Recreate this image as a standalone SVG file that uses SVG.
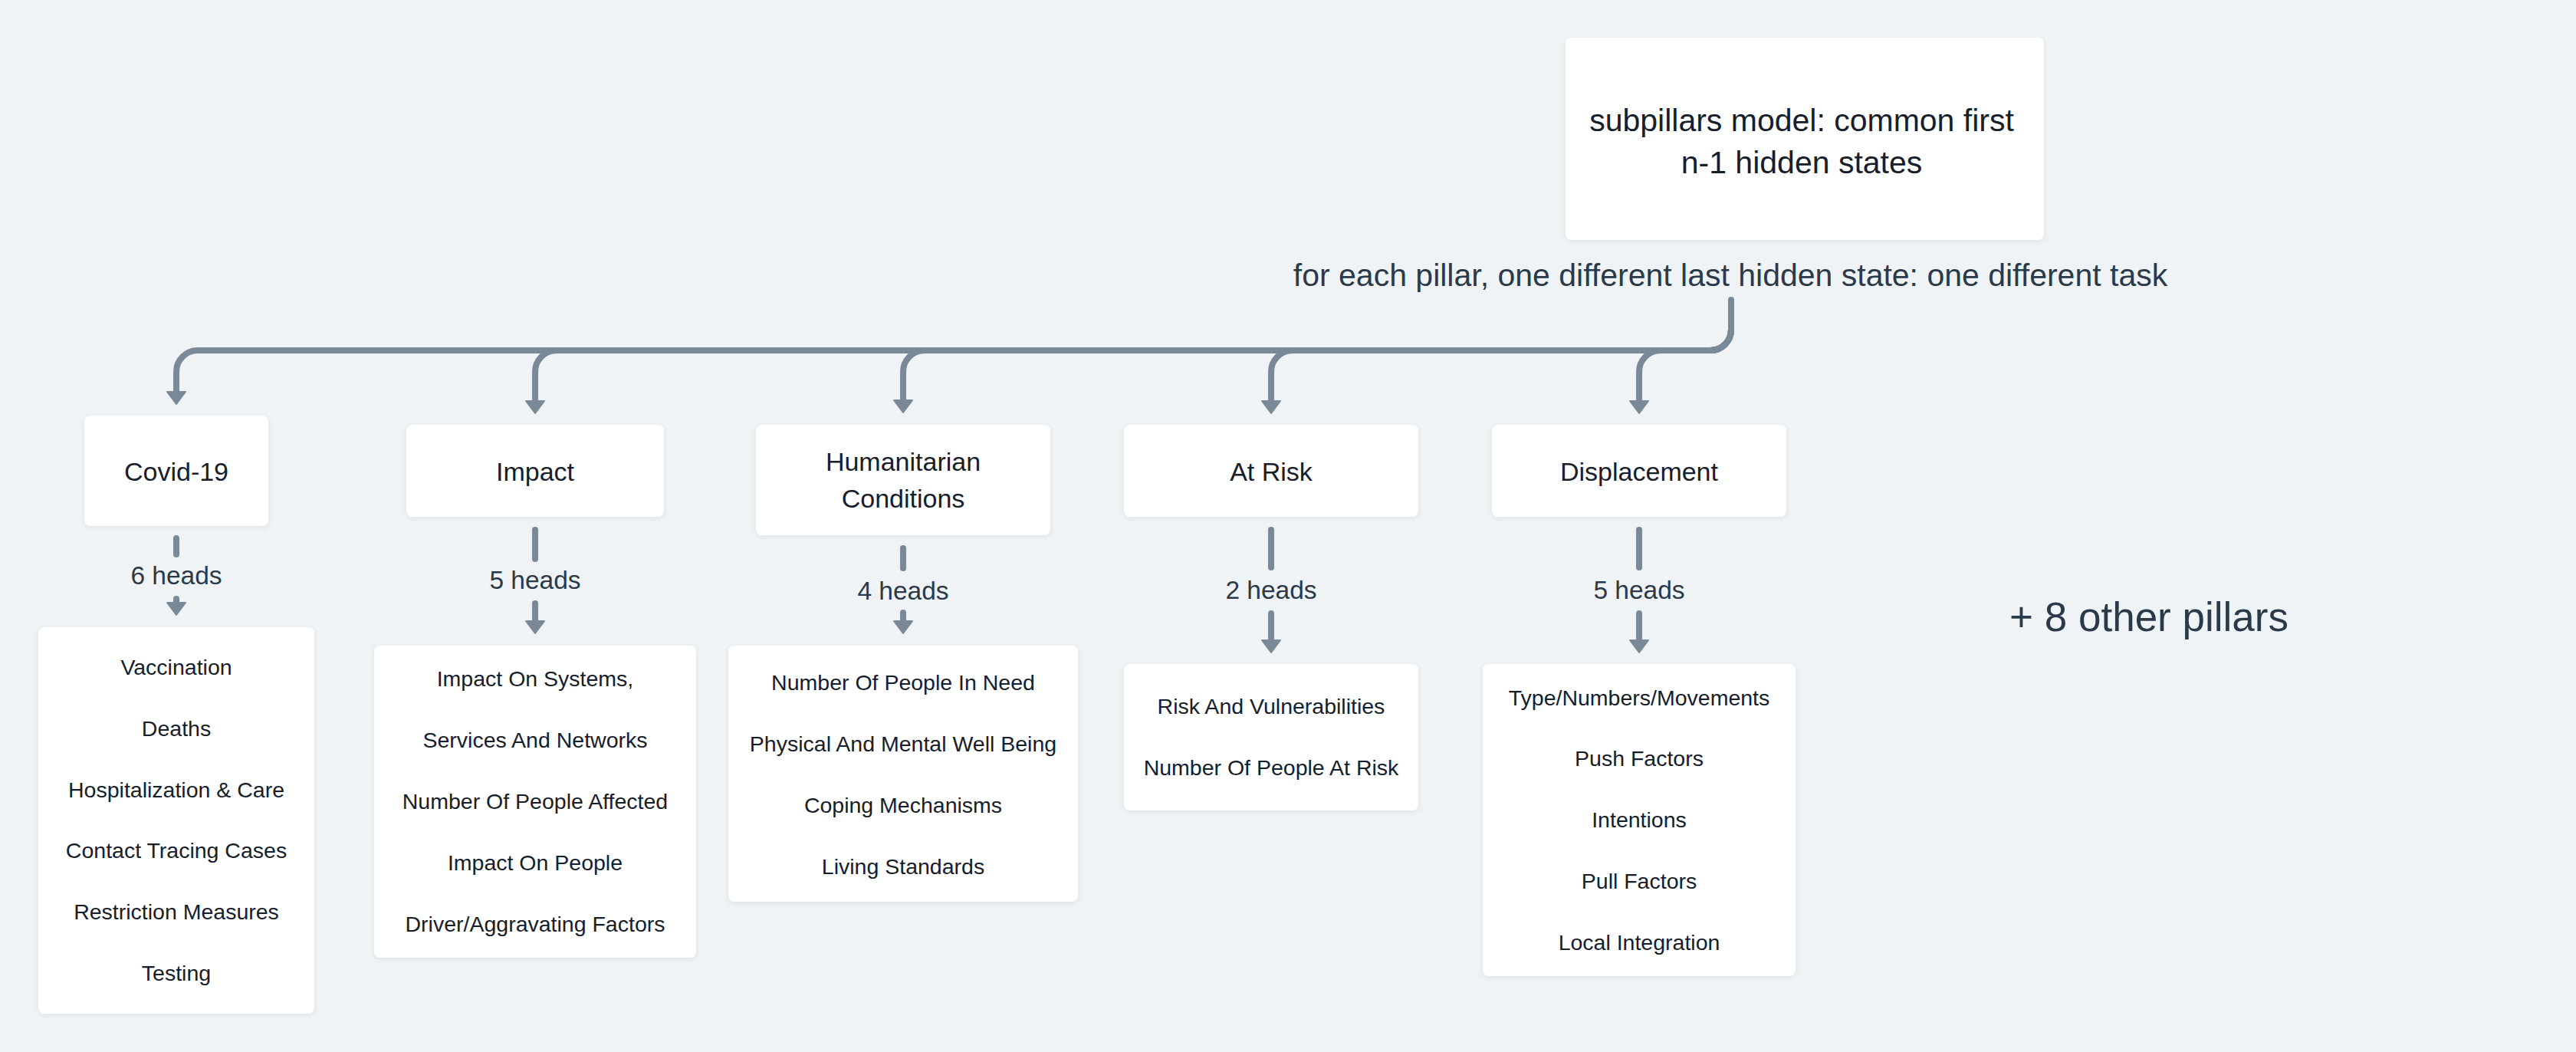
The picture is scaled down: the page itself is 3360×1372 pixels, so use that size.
<svg xmlns="http://www.w3.org/2000/svg" width="3360" height="1372" viewBox="0 0 3360 1372">
<style>
text{font-family:"Liberation Sans",Arial,sans-serif;text-anchor:middle}
.card{fill:#ffffff;filter:url(#sh)}
.title{font-size:34px;fill:#16202b}
.item{font-size:28.5px;fill:#16202b}
.big{font-size:41px;fill:#16202b}
.lbl{font-size:33.5px;fill:#2a3a4a}
.toplbl{font-size:41px;fill:#2a3a4a}
.more{font-size:53px;fill:#2a3a4a}
.wire{fill:none;stroke:#7a8998;stroke-width:8;stroke-linejoin:round}
.seg{fill:none;stroke:#7a8998;stroke-width:8;stroke-linecap:round}
.arr{marker-end:url(#ah)}
</style>
<defs>
<filter id="sh" x="-10%" y="-10%" width="120%" height="130%">
<feDropShadow dx="0" dy="2" stdDeviation="3" flood-color="#1b2a3a" flood-opacity="0.07"/>
</filter>
<marker id="ah" markerUnits="userSpaceOnUse" markerWidth="20" markerHeight="28" refX="3" refY="13" orient="auto" overflow="visible">
<path d="M1,1 L17,13 L1,25 Z" fill="#7a8998" stroke="#7a8998" stroke-width="2" stroke-linejoin="round"/>
</marker>
</defs>
<rect x="0" y="0" width="3360" height="1372" fill="#eff3f6"/>

<g id="connectors">
<g id="edge-top">
<path class="seg" d="M2258 391 V400"/>
<path class="wire arr" d="M2258 391 V430 A27 27 0 0 1 2231 457 H258 A28 28 0 0 0 230 485 V513"/>
<path class="wire arr" d="M2258 391 V430 A27 27 0 0 1 2231 457 H726 A28 28 0 0 0 698 485 V525"/>
<path class="wire arr" d="M2258 391 V430 A27 27 0 0 1 2231 457 H1206 A28 28 0 0 0 1178 485 V524"/>
<path class="wire arr" d="M2258 391 V430 A27 27 0 0 1 2231 457 H1686 A28 28 0 0 0 1658 485 V525"/>
<path class="wire arr" d="M2258 391 V430 A27 27 0 0 1 2231 457 H2166 A28 28 0 0 0 2138 485 V525"/>
<text class="toplbl" x="2257" y="373">for each pillar, one different last hidden state: one different task</text>
</g>
<g id="edge-covid">
<path class="seg" d="M230 702 V723"/>
<path class="seg arr" d="M230 781 V788"/>
<text class="lbl" x="230" y="762">6 heads</text>
</g>
<g id="edge-impact">
<path class="seg" d="M698 691 V729"/>
<path class="seg arr" d="M698 787 V812"/>
<text class="lbl" x="698" y="768">5 heads</text>
</g>
<g id="edge-humanitarian">
<path class="seg" d="M1178 715 V741"/>
<path class="seg arr" d="M1178 799 V812"/>
<text class="lbl" x="1178" y="782">4 heads</text>
</g>
<g id="edge-atrisk">
<path class="seg" d="M1658 691 V740"/>
<path class="seg arr" d="M1658 800 V837"/>
<text class="lbl" x="1658" y="781">2 heads</text>
</g>
<g id="edge-displacement">
<path class="seg" d="M2138 691 V740"/>
<path class="seg arr" d="M2138 800 V837"/>
<text class="lbl" x="2138" y="781">5 heads</text>
</g>
</g>

<g id="node-subpillars">
<rect class="card" x="2042" y="49" width="624" height="264" rx="8"/>
<text class="big" x="2350" y="171">subpillars model: common first</text>
<text class="big" x="2350" y="226">n-1 hidden states</text>
</g>

<g id="node-covid">
<rect class="card" x="110" y="542" width="240" height="144" rx="8"/>
<text class="title" x="230" y="627">Covid-19</text>
</g>
<g id="node-impact">
<rect class="card" x="530" y="554" width="336" height="120" rx="8"/>
<text class="title" x="698" y="627">Impact</text>
</g>
<g id="node-humanitarian">
<rect class="card" x="986" y="554" width="384" height="144" rx="8"/>
<text class="title" x="1178" y="614">Humanitarian</text>
<text class="title" x="1178" y="662">Conditions</text>
</g>
<g id="node-atrisk">
<rect class="card" x="1466" y="554" width="384" height="120" rx="8"/>
<text class="title" x="1658" y="627">At Risk</text>
</g>
<g id="node-displacement">
<rect class="card" x="1946" y="554" width="384" height="120" rx="8"/>
<text class="title" x="2138" y="627">Displacement</text>
</g>

<g id="node-covid-heads">
<rect class="card" x="50" y="818" width="360" height="504" rx="8"/>
<text class="item" x="230" y="880">Vaccination</text>
<text class="item" x="230" y="960">Deaths</text>
<text class="item" x="230" y="1040">Hospitalization &amp; Care</text>
<text class="item" x="230" y="1119">Contact Tracing Cases</text>
<text class="item" x="230" y="1199">Restriction Measures</text>
<text class="item" x="230" y="1279">Testing</text>
</g>
<g id="node-impact-heads">
<rect class="card" x="488" y="842" width="420" height="407" rx="8"/>
<text class="item" x="698" y="895">Impact On Systems,</text>
<text class="item" x="698" y="975">Services And Networks</text>
<text class="item" x="698" y="1055">Number Of People Affected</text>
<text class="item" x="698" y="1135">Impact On People</text>
<text class="item" x="698" y="1215">Driver/Aggravating Factors</text>
</g>
<g id="node-humanitarian-heads">
<rect class="card" x="950" y="842" width="456" height="334" rx="8"/>
<text class="item" x="1178" y="900">Number Of People In Need</text>
<text class="item" x="1178" y="980">Physical And Mental Well Being</text>
<text class="item" x="1178" y="1060">Coping Mechanisms</text>
<text class="item" x="1178" y="1140">Living Standards</text>
</g>
<g id="node-atrisk-heads">
<rect class="card" x="1466" y="866" width="384" height="191" rx="8"/>
<text class="item" x="1658" y="931">Risk And Vulnerabilities</text>
<text class="item" x="1658" y="1011">Number Of People At Risk</text>
</g>
<g id="node-displacement-heads">
<rect class="card" x="1934" y="866" width="408" height="407" rx="8"/>
<text class="item" x="2138" y="920">Type/Numbers/Movements</text>
<text class="item" x="2138" y="999">Push Factors</text>
<text class="item" x="2138" y="1079">Intentions</text>
<text class="item" x="2138" y="1159">Pull Factors</text>
<text class="item" x="2138" y="1239">Local Integration</text>
</g>

<g id="note-more">
<text class="more" x="2803" y="823">+ 8 other pillars</text>
</g>
</svg>
